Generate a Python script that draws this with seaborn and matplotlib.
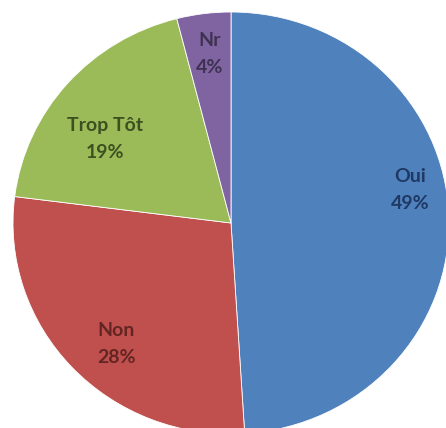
import matplotlib
matplotlib.use("Agg")
import matplotlib.pyplot as plt
import seaborn as sns

sns.set_theme(style="white")
plt.rcParams['font.family'] = ['Lato', 'DejaVu Sans']

categories = ["Oui", "Non", "Trop Tôt", "Nr"]
values = [49, 28, 19, 4]
colors = ["#4F81BD", "#C0504D", "#9BBB59", "#8064A2"]
text_colors = ["#1F3864", "#632523", "#3C5020", "#3F3151"]

# label anchor positions in pixels (Excel "best fit" placement)
label_px = [(410, 190), (116, 344), (105, 139), (210, 54)]

CX, CY, SX, SY = 231, 223, 218, 211
W, H = 446, 428

fig = plt.figure(figsize=(4.46, 4.28), dpi=100)
ax = fig.add_axes([0, 0, 1, 1])
wedges, texts = ax.pie(values, colors=colors, startangle=90, counterclock=False,
                       radius=1.0, labels=[f"{c}\n{v}%" for c, v in zip(categories, values)],
                       labeldistance=0.81,
                       wedgeprops=dict(edgecolor="white", linewidth=0.6),
                       textprops=dict(fontsize=14, fontweight="bold", ha="center", va="center",
                                      linespacing=1.75))
for t, c, (px, py) in zip(texts, text_colors, label_px):
    t.set_color(c)
    t.set_horizontalalignment("center")
    t.set_position(((px - CX) / SX, (CY - py) / SY))
ax.set_aspect("auto")
ax.set_xlim(-CX / SX, (W - CX) / SX)
ax.set_ylim(-(H - CY) / SY, CY / SY)
ax.axis("off")
fig.savefig("out.png", dpi=100, facecolor="white")
